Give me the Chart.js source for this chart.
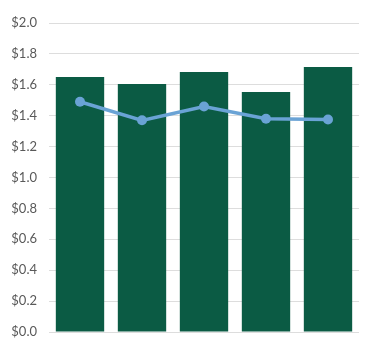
<!DOCTYPE html>
<html>
<head>
<meta charset="utf-8">
<script src="https://cdn.jsdelivr.net/npm/chart.js@4"></script>
<style>
html,body{margin:0;padding:0;background:#fff;}
#wrap{width:388px;height:344px;position:relative;}
</style>
</head>
<body>
<div id="wrap"><canvas id="c" width="388" height="344"></canvas></div>
<script>
const categories = ["1", "2", "3", "4", "5"];
const barValues = [1.65, 1.605, 1.683, 1.553, 1.715];
const lineValues = [1.49, 1.37, 1.46, 1.38, 1.375];
const yTicks = [0, 0.2, 0.4, 0.6, 0.8, 1.0, 1.2, 1.4, 1.6, 1.8, 2.0];

new Chart(document.getElementById('c'), {
  data: {
    labels: categories,
    datasets: [
      {
        type: 'line',
        data: lineValues,
        borderColor: '#6aa3d5',
        backgroundColor: '#6aa3d5',
        borderWidth: 3.5,
        pointRadius: 5,
        pointBackgroundColor: '#6aa3d5',
        pointBorderWidth: 0,
        tension: 0,
        order: 0
      },
      {
        type: 'bar',
        data: barValues,
        backgroundColor: '#0b5b44',
        borderWidth: 0,
        categoryPercentage: 0.78,
        barPercentage: 1.0,
        order: 1
      }
    ]
  },
  options: {
    responsive: false,
    animation: false,
    devicePixelRatio: 1,
    layout: { padding: { top: 23, right: 29, bottom: 12, left: 0 } },
    plugins: { legend: { display: false }, tooltip: { enabled: false } },
    scales: {
      x: { display: false },
      y: {
        min: 0, max: 2.0,
        afterBuildTicks: (axis) => { axis.ticks = yTicks.map(v => ({ value: v })); },
        afterFit: (axis) => { axis.width = 49; axis.paddingTop = 0; axis.paddingBottom = 0; },
        grid: { color: '#dddddd', lineWidth: 1, drawTicks: false },
        border: { display: false },
        ticks: {
          padding: 12,
          color: '#595959',
          font: { family: 'Lato', size: 13 },
          callback: (v) => '$' + Number(v).toFixed(1)
        }
      }
    }
  }
});
</script>
</body>
</html>
